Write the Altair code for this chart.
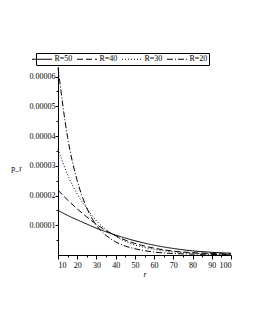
import altair as alt
import pandas as pd

r_vals = [10, 15, 20, 25, 30, 35, 40, 45, 50, 60, 70, 80, 90, 100]
p_R50 = [1.50e-5, 1.33e-5, 1.18e-5, 1.04e-5, 0.90e-5, 0.78e-5, 0.67e-5, 0.57e-5, 0.48e-5, 0.33e-5, 0.22e-5, 0.14e-5, 0.09e-5, 0.06e-5]
p_R40 = [2.18e-5, 1.85e-5, 1.55e-5, 1.28e-5, 1.03e-5, 0.82e-5, 0.65e-5, 0.50e-5, 0.39e-5, 0.23e-5, 0.13e-5, 0.08e-5, 0.05e-5, 0.03e-5]
p_R30 = [3.56e-5, 2.70e-5, 2.05e-5, 1.56e-5, 1.15e-5, 0.85e-5, 0.63e-5, 0.46e-5, 0.34e-5, 0.19e-5, 0.11e-5, 0.06e-5, 0.035e-5, 0.02e-5]
p_R20 = [6.30e-5, 3.95e-5, 2.50e-5, 1.58e-5, 1.00e-5, 0.66e-5, 0.44e-5, 0.30e-5, 0.21e-5, 0.10e-5, 0.05e-5, 0.03e-5, 0.02e-5, 0.01e-5]

series = ["R=50", "R=40", "R=30", "R=20"]
dashes = [[1, 0], [6, 3], [1, 2], [6, 2, 1, 2]]
x_ticks = [10, 15, 20, 25, 30, 35, 40, 45, 50, 55, 60, 65, 70, 75, 80, 85, 90, 95, 100]
y_ticks = [0.000005, 0.00001, 0.000015, 0.00002, 0.000025, 0.00003, 0.000035,
           0.00004, 0.000045, 0.00005, 0.000055, 0.00006]

rows = []
for name, vals in zip(series, [p_R50, p_R40, p_R30, p_R20]):
    for rv, pv in zip(r_vals, vals):
        rows.append({"r": rv, "p": pv, "R": name})
df = pd.DataFrame(rows)

FONT = "Liberation Serif"

chart = alt.Chart(df).mark_line(color="black", strokeWidth=1, interpolate="monotone").encode(
    x=alt.X("r:Q", scale=alt.Scale(domain=[10, 100], nice=False, zero=False),
            axis=alt.Axis(values=x_ticks, title="r", grid=False,
                          labelExpr="datum.value % 10 == 0 ? datum.label : ''",
                          tickSize={"condition": {"test": "datum.value % 10 == 0", "value": 4}, "value": 2},
                          labelPadding=2, titleFontStyle="italic", titleY=19,
                          titleBaseline="middle")),
    y=alt.Y("p:Q", scale=alt.Scale(domain=[0, 0.0000632], nice=False),
            axis=alt.Axis(values=y_ticks, title="p_r", grid=False,
                          labelExpr="round(datum.value*1e6) % 10 == 0 ? format(datum.value, '.5f') : ''",
                          tickSize={"condition": {"test": "round(datum.value*1e6) % 10 == 0", "value": 3}, "value": 2},
                          labelPadding=0, titleAngle=0, titleX=-42, titleY=101,
                          titleAlign="center", titleBaseline="middle")),
    strokeDash=alt.StrokeDash("R:N", scale=alt.Scale(domain=series, range=dashes),
                              legend=alt.Legend(title=None, orient="none", legendX=-22, legendY=-14,
                                                direction="horizontal", columns=4,
                                                symbolType="M-2.5,0H2.5", symbolSize=64,
                                                symbolStrokeWidth=1, symbolStrokeColor="black",
                                                labelOffset=8, columnPadding=2, padding=1.5,
                                                strokeColor="black", cornerRadius=0)),
).properties(
    width=173, height=188,
    autosize=alt.AutoSizeParams(type="none"),
    padding={"left": 50, "top": 59, "right": 16, "bottom": 60},
).configure_axis(
    domainColor="black", tickColor="black", labelColor="black", titleColor="black",
    labelFont=FONT, titleFont=FONT, labelFontSize=8, titleFontSize=8,
    titleFontWeight="normal", domainWidth=1, tickWidth=1,
).configure_legend(
    labelFont=FONT, labelFontSize=8, labelColor="black",
).configure_view(stroke=None)

chart.save("out.html", embed_options={"renderer": "svg", "actions": False})
